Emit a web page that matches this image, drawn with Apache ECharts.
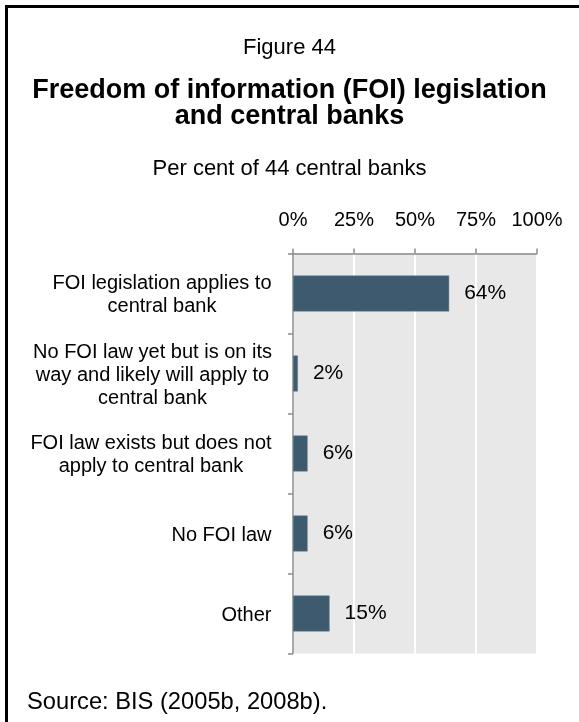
<!DOCTYPE html>
<html>
<head>
<meta charset="utf-8">
<script src="https://cdn.jsdelivr.net/npm/echarts@6/dist/echarts.min.js"></script>
<style>
  html, body { margin: 0; padding: 0; background: #fff; }
  #chart { width: 579px; height: 722px; }
</style>
</head>
<body>
<div id="chart"></div>
<script>
// Survey categories (top to bottom) and share of central banks, per cent
const categories = [
  'FOI legislation applies to\ncentral bank',
  'No FOI law yet but is on its\nway and likely will apply to\ncentral bank',
  'FOI law exists but does not\napply to central bank',
  'No FOI law',
  'Other'
];
const shares = [64, 2, 6, 6, 15];
const tickValues = [0, 25, 50, 75, 100];

const FONT = '"Liberation Sans", Arial, sans-serif';
const LABEL_SIZE = 20;

// Width of the widest line of each category label, so every line can be centred in its block
const measureCtx = document.createElement('canvas').getContext('2d');
measureCtx.font = LABEL_SIZE + 'px "Liberation Sans"';
const blockWidths = categories.map(c =>
  Math.ceil(Math.max(...c.split('\n').map(l => measureCtx.measureText(l).width)))
);
const rich = {};
blockWidths.forEach((w, i) => {
  rich['c' + i] = { width: w, align: 'center', fontSize: LABEL_SIZE, lineHeight: 23, color: '#000', fontFamily: FONT };
});

const chart = echarts.init(document.getElementById('chart'), null, { renderer: 'canvas' });
chart.setOption({
  animation: false,
  backgroundColor: '#fff',
  textStyle: { fontFamily: FONT, color: '#000' },
  title: [
    { text: 'Figure 44', left: 'center', top: 32,
      textStyle: { fontSize: 22, fontWeight: 'normal', color: '#000', fontFamily: FONT } },
    { text: 'Freedom of information (FOI) legislation\nand central banks', left: 'center', top: 72,
      textStyle: { fontSize: 27, fontWeight: 'bold', lineHeight: 26.5, color: '#000', fontFamily: FONT } },
    { text: 'Per cent of 44 central banks', left: 'center', top: 153,
      textStyle: { fontSize: 22, fontWeight: 'normal', color: '#000', fontFamily: FONT } },
    { text: 'Source: BIS (2005b, 2008b).', left: 22, top: 685,
      textStyle: { fontSize: 23.7, fontWeight: 'normal', color: '#000', fontFamily: FONT } }
  ],
  graphic: [{
    type: 'rect',
    shape: { x: 6.5, y: 6.5, width: 800, height: 800 },
    style: { fill: 'none', stroke: '#000', lineWidth: 3 },
    silent: true
  }],
  grid: {
    left: 293, right: 42, top: 253.5, bottom: 68.5,
    show: true, backgroundColor: '#e8e8e8', borderWidth: 0
  },
  xAxis: {
    type: 'value',
    position: 'top',
    min: tickValues[0],
    max: tickValues[tickValues.length - 1],
    interval: 25,
    axisLine: { show: true, lineStyle: { color: '#8c8c8c', width: 1.5 } },
    axisTick: { show: true, length: 5, lineStyle: { color: '#8c8c8c', width: 1.5 } },
    axisLabel: { formatter: '{value}%', fontSize: LABEL_SIZE, color: '#000', margin: 23, fontFamily: FONT },
    splitLine: { show: true, lineStyle: { color: '#ffffff', width: 2 } }
  },
  yAxis: {
    type: 'category',
    inverse: true,
    data: categories,
    axisLine: { show: true, lineStyle: { color: '#8c8c8c', width: 1.5 } },
    axisTick: { show: true, length: 5, lineStyle: { color: '#8c8c8c', width: 1.5 } },
    axisLabel: {
      margin: 21,
      align: 'right',
      padding: [3, 0, 0, 0],
      formatter: (val, idx) => val.split('\n').map(l => '{c' + idx + '|' + l + '}').join('\n'),
      rich: rich
    }
  },
  series: [{
    type: 'bar',
    data: shares,
    barWidth: 36,
    itemStyle: { color: '#3e5a6f', borderColor: '#6b8294', borderWidth: 0.5 },
    label: {
      show: true, position: 'right', distance: 15,
      formatter: '{c}%', fontSize: 21, color: '#000', fontFamily: FONT
    }
  }]
});
</script>
</body>
</html>
